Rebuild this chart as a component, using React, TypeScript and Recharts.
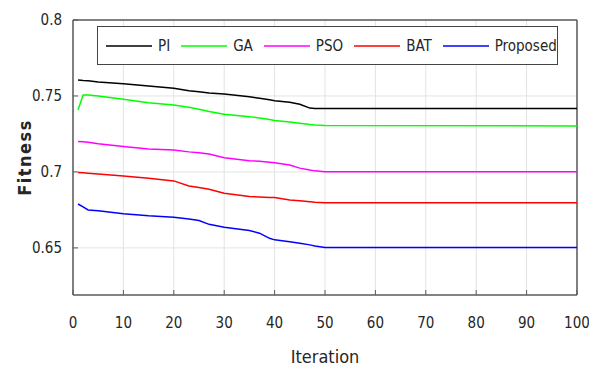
import React from "react";
import { LineChart, Line, XAxis, YAxis, CartesianGrid, ReferenceLine } from "recharts";

const iterations = [1, 2, 3, 5, 10, 15, 20, 23, 25, 27, 30, 35, 37, 39, 40, 43, 45, 47, 48, 50, 100];

const piFitness = [0.7605, 0.7602, 0.76, 0.7592, 0.758, 0.7565, 0.7551, 0.7535, 0.7528, 0.752, 0.7513, 0.7495, 0.7485, 0.7475, 0.7469, 0.7459, 0.7445, 0.742, 0.7418, 0.7418, 0.7418];
const gaFitness = [0.7408, 0.7507, 0.7507, 0.75, 0.7478, 0.7455, 0.7441, 0.7425, 0.7412, 0.7398, 0.738, 0.7364, 0.7355, 0.7345, 0.7338, 0.7328, 0.732, 0.7312, 0.7309, 0.7305, 0.7303];
const psoFitness = [0.72, 0.7199, 0.7196, 0.7185, 0.7167, 0.7151, 0.7145, 0.7132, 0.7126, 0.7118, 0.7094, 0.7074, 0.707, 0.7064, 0.7061, 0.7046, 0.7025, 0.7012, 0.7007, 0.7002, 0.7002];
const batFitness = [0.6996, 0.6995, 0.6992, 0.6987, 0.6974, 0.6958, 0.6941, 0.6908, 0.6898, 0.6886, 0.686, 0.6838, 0.6835, 0.6832, 0.6831, 0.6816, 0.681, 0.6803, 0.68, 0.6797, 0.6797];
const proposedFitness = [0.6789, 0.677, 0.675, 0.6744, 0.6724, 0.6711, 0.6702, 0.669, 0.668, 0.6655, 0.6636, 0.6614, 0.6597, 0.6563, 0.6553, 0.654, 0.6531, 0.652, 0.6512, 0.6503, 0.6503];

const xTicks = [0, 10, 20, 30, 40, 50, 60, 70, 80, 90, 100];
const yTicks = [0.65, 0.7, 0.75, 0.8];

const series = [
  { key: "pi", name: "PI", color: "#000000" },
  { key: "ga", name: "GA", color: "#00ff00" },
  { key: "pso", name: "PSO", color: "#ff00ff" },
  { key: "bat", name: "BAT", color: "#ff0000" },
  { key: "proposed", name: "Proposed", color: "#0000ff" },
];

const data = iterations.map((it, i) => ({
  it,
  pi: piFitness[i],
  ga: gaFitness[i],
  pso: psoFitness[i],
  bat: batFitness[i],
  proposed: proposedFitness[i],
}));

const font = '"DejaVu Sans Condensed", "Liberation Sans Narrow", "Liberation Sans", Arial, sans-serif';
const axisColor = "#5a5a5a";
const textColor = "#262626";
const yDomain = [0.619, 0.8];

function LegendBox() {
  return (
    <div
      style={{
        position: "absolute",
        top: 26,
        left: 97,
        width: 461,
        height: 39,
        border: "1.5px solid #444",
        background: "#fff",
        display: "flex",
        alignItems: "center",
        fontFamily: font,
        fontSize: 15,
        color: textColor,
        boxSizing: "border-box",
        paddingLeft: 8,
      }}
    >
      {series.map((s) => (
        <div key={s.key} style={{ display: "flex", alignItems: "center", marginRight: 11 }}>
          <svg width={46} height={4} style={{ marginRight: 6 }}>
            <line x1={0} y1={2} x2={46} y2={2} stroke={s.color} strokeWidth={1.5} />
          </svg>
          <span>{s.name}</span>
        </div>
      ))}
    </div>
  );
}

export default function App() {
  return (
    <div style={{ position: "absolute", left: 0, top: 0, width: 589, height: 372 }}>
      <LineChart width={589} height={372} data={data} margin={{ top: 20, right: 12, left: 0, bottom: 7 }}>
        <CartesianGrid stroke="#e3e3e3" horizontalValues={yTicks} verticalValues={xTicks} />
        <XAxis
          dataKey="it"
          type="number"
          domain={[0, 100]}
          ticks={xTicks}
          height={70}
          axisLine={{ stroke: axisColor, strokeWidth: 1.5 }}
          tickLine={{ stroke: axisColor }}
          tickSize={-5}
          tickMargin={27}
          tick={{ fill: textColor, fontSize: 15, fontFamily: font }}
          label={{ value: "Iteration", position: "insideBottom", offset: 2, fill: textColor, fontSize: 18, fontFamily: font }}
        />
        <YAxis
          type="number"
          domain={yDomain}
          ticks={yTicks}
          allowDataOverflow
          width={73}
          axisLine={{ stroke: axisColor, strokeWidth: 1.5 }}
          tickLine={{ stroke: axisColor }}
          tickSize={-5}
          tickMargin={16}
          tickFormatter={(v: number) => String(v)}
          tick={{ fill: textColor, fontSize: 15, fontFamily: font }}
          label={{
            value: "Fitness",
            angle: -90,
            position: "insideLeft",
            offset: 25,
            fill: textColor,
            fontSize: 18,
            fontWeight: "bold",
            fontFamily: font,
            letterSpacing: 1.5,
            style: { textAnchor: "middle" },
          }}
        />
        {/* top and right frame edges */}
        <ReferenceLine y={0.8} stroke={axisColor} strokeWidth={1.5} />
        <ReferenceLine x={100} stroke={axisColor} strokeWidth={1.5} />
        {series.map((s) => (
          <Line
            key={s.key}
            dataKey={s.key}
            name={s.name}
            stroke={s.color}
            strokeWidth={1.5}
            dot={false}
            type="linear"
            isAnimationActive={false}
          />
        ))}
      </LineChart>
      <LegendBox />
    </div>
  );
}
